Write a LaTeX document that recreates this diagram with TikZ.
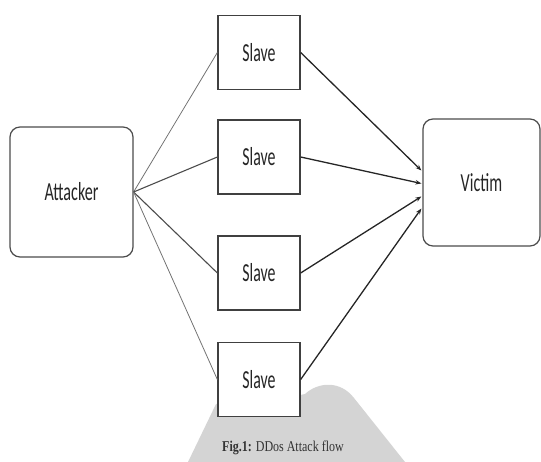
\documentclass[tikz,border=0pt]{standalone}
\usepackage{fontspec}
\setmainfont{Liberation Serif}
\newfontfamily\boxfont{Carlito}
\usetikzlibrary{arrows.meta,calc}
\begin{document}
\begin{tikzpicture}[x=1pt,y=-1pt,
  rbox/.style={draw=black!70,line width=1.2pt,rounded corners=10pt,fill=white,inner sep=0pt,
    text=black!85,font=\boxfont\fontsize{26}{26}\selectfont},
  sbox/.style={draw=black!75,line width=1.3pt,fill=white,inner sep=0pt,minimum width=82pt,minimum height=74pt,
    text=black!85,font=\boxfont\fontsize{26}{26}\selectfont},
  inline/.style={draw=black!55,line width=0.8pt},
  outline/.style={draw=black!85,line width=1.3pt,-{Stealth[length=6pt,width=4.5pt]}}]
\useasboundingbox (0,0) rectangle (541,462);
% background mountain
\fill[black!17] (188,462) -- (216,404) .. controls (240,398) and (290,398) .. (305,394)
  .. controls (318,382) and (340,380) .. (354,398) -- (405,462) -- cycle;
% nodes
\node[rbox,minimum width=123pt,minimum height=130pt] (att) at (71.5,192) {\scalebox{0.62}[1]{Attacker}};
\node[rbox,minimum width=117pt,minimum height=127pt] (vic) at (481.5,182.5) {\scalebox{0.62}[1]{Victim}};
\node[sbox] (s1) at (259,52.5) {\scalebox{0.61}[1]{Slave}};
\node[sbox] (s2) at (259,157) {\scalebox{0.61}[1]{Slave}};
\node[sbox] (s3) at (259,273) {\scalebox{0.61}[1]{Slave}};
\node[sbox] (s4) at (259,379.5) {\scalebox{0.61}[1]{Slave}};
% connectors
\draw[inline] (att.east) -- (s1.west);
\draw[inline,line width=1.1pt,draw=black!70] (att.east) -- (s2.west);
\draw[inline,line width=1.1pt,draw=black!70] (att.east) -- (s3.west);
\draw[inline] (att.east) -- (s4.west);
\coordinate (t1) at ($(vic.west)+(-1,-12)$);
\coordinate (t2) at ($(vic.west)+(-1,1)$);
\coordinate (t3) at ($(vic.west)+(-1,14)$);
\coordinate (t4) at ($(vic.west)+(-1,26)$);
\draw[outline] (s1.east) -- (t1);
\draw[outline] (s2.east) -- (t2);
\draw[outline] (s3.east) -- (t3);
\draw[outline] (s4.east) -- (t4);
% caption
\node[text=black!80,font=\fontsize{15}{15}\selectfont] (cap) at (283,448) {\scalebox{0.8}[1]{\textbf{Fig.1:} DDos Attack flow}};
\end{tikzpicture}
\end{document}
